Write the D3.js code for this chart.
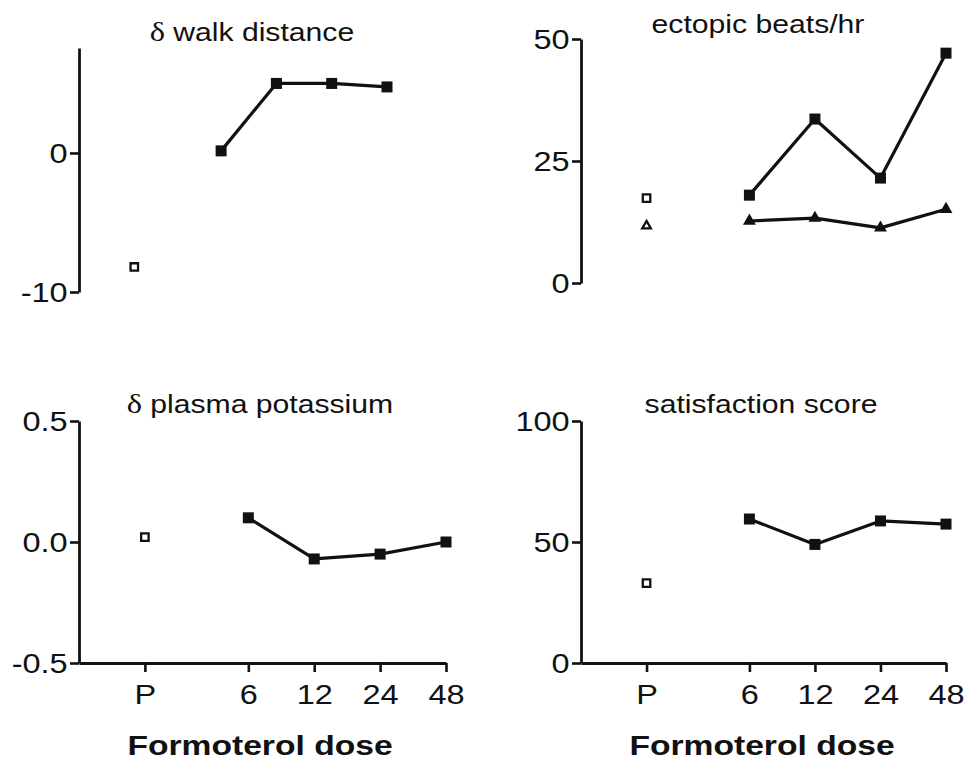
<!DOCTYPE html>
<html>
<head>
<meta charset="utf-8">
<script src="https://cdn.jsdelivr.net/npm/d3@7"></script>
<style>
  html, body { margin: 0; padding: 0; background: #fff; }
  svg { display: block; }
  text { font-family: "Liberation Sans", Arial, sans-serif; fill: #111; }
</style>
</head>
<body>
<svg id="chart" width="968" height="764"></svg>
<script>
// Dose groups: placebo (P) followed by formoterol doses (µg)
const doses = ["P", "6", "12", "24", "48"];
const formoterolDoses = ["6", "12", "24", "48"];

// δ walk distance
const walkPlacebo = -8.2;
const walkFormoterol = [0.15, 5.0, 5.0, 4.75];

// ectopic beats/hr (two series)
const ectopicAPlacebo = 17.4;
const ectopicAFormoterol = [18.0, 33.6, 21.5, 47.1];
const ectopicBPlacebo = 11.7;
const ectopicBFormoterol = [12.7, 13.3, 11.3, 15.1];

// δ plasma potassium
const potassiumPlacebo = 0.02;
const potassiumFormoterol = [0.1, -0.07, -0.05, 0.0];

// satisfaction score
const satisfactionPlacebo = 33;
const satisfactionFormoterol = [59.5, 49, 58.7, 57.4];

// axis tick values
const walkTicks = [-10, 0];
const ectopicTicks = [0, 25, 50];
const potassiumTicks = [-0.5, 0.0, 0.5];
const satisfactionTicks = [0, 50, 100];

const svg = d3.select("#chart");
const INK = "#111";
const TICK_FONT = 28.5, TICK_SX = 1.14;
const TITLE_FONT = 26, TITLE_SX = 1.16;
const LABEL_FONT = 28.5, LABEL_SX = 1.18;

// plain hyphen for negatives, as in the printed figure
const hyphenate = f => v => f(v).replace("\u2212", "-");

// slot of each dose group along the x axis (gap after placebo)
const doseSlot = d3.scaleOrdinal().domain(doses).range([1, 2.57, 3.57, 4.57, 5.57]);

function styleTicks(sel) {
  sel.select(".domain").attr("stroke", INK).attr("stroke-width", 2.8);
  sel.selectAll(".tick line").attr("stroke", INK).attr("stroke-width", 2.6);
  sel.selectAll(".tick text")
    .attr("transform", `scale(${TICK_SX},1)`)
    .style("font-size", TICK_FONT + "px").attr("fill", INK)
    .style("font-family", "'Liberation Sans', Arial, sans-serif");
}

function panel(cfg) {
  const g = svg.append("g");
  const x = d3.scaleLinear().domain([0, 5.57]).range(cfg.xRange);
  const y = d3.scaleLinear().domain(cfg.yDomain).range(cfg.yRange);
  const px = d => x(doseSlot(d));

  // title
  const t = g.append("text")
    .attr("transform", `translate(${cfg.titleX},${cfg.titleY}) scale(${TITLE_SX},1)`)
    .attr("text-anchor", "middle")
    .style("font-size", TITLE_FONT + "px");
  if (cfg.delta) {
    t.append("tspan").style("font-family", "'Liberation Serif', serif").style("font-size", "28px").text("δ ");
  }
  t.append("tspan").text(cfg.title);

  // y axis
  g.append("g")
    .attr("transform", `translate(${cfg.xRange[0]},0)`)
    .call(d3.axisLeft(y).tickValues(cfg.ticks).tickFormat(hyphenate(cfg.fmt || d3.format("d")))
      .tickSizeInner(9).tickSizeOuter(0).tickPadding(1))
    .call(styleTicks);

  // x axis (bottom row only)
  if (cfg.xAxis) {
    g.append("g")
      .attr("transform", `translate(0,${cfg.yRange[0]})`)
      .call(d3.axisBottom(x).tickValues(doses.map(d => doseSlot(d)))
        .tickFormat((v, i) => doses[i]).tickSizeInner(9).tickSizeOuter(0).tickPadding(12))
      .call(styleTicks);

    g.append("text")
      .attr("transform", `translate(${cfg.labelX},755) scale(${LABEL_SX},1)`)
      .attr("text-anchor", "middle")
      .style("font-size", LABEL_FONT + "px").style("font-weight", "bold")
      .text("Formoterol dose");
  }

  // series
  cfg.series.forEach(s => {
    const pts = formoterolDoses.map((d, i) => ({ d, v: s.values[i] }));
    g.append("path")
      .datum(pts)
      .attr("fill", "none").attr("stroke", INK).attr("stroke-width", 3.2)
      .attr("stroke-linejoin", "round")
      .attr("d", d3.line().x(p => px(p.d)).y(p => y(p.v)));

    const filled = d3.symbol().type(s.shape).size(s.shape === d3.symbolSquare ? 121 : 72);
    g.selectAll(null).data(pts).join("path")
      .attr("transform", p => `translate(${px(p.d)},${y(p.v)})`)
      .attr("d", filled).attr("fill", INK);

    const hollow = d3.symbol().type(s.shape).size(s.shape === d3.symbolSquare ? 56 : 32);
    g.append("path")
      .attr("transform", `translate(${px("P")},${y(s.placebo)})`)
      .attr("d", hollow).attr("fill", "#fff").attr("stroke", INK).attr("stroke-width", 2.3);
  });
}

panel({
  title: "walk distance", delta: true, titleX: 252, titleY: 41,
  xRange: [79, 387], yDomain: [-10, 7.55], yRange: [292, 48], ticks: walkTicks,
  series: [{ values: walkFormoterol, placebo: walkPlacebo, shape: d3.symbolSquare }]
});
panel({
  title: "ectopic beats/hr", titleX: 758, titleY: 33,
  xRange: [581, 946], yDomain: [0, 50], yRange: [283, 39], ticks: ectopicTicks,
  series: [
    { values: ectopicAFormoterol, placebo: ectopicAPlacebo, shape: d3.symbolSquare },
    { values: ectopicBFormoterol, placebo: ectopicBPlacebo, shape: d3.symbolTriangle }
  ]
});
panel({
  title: "plasma potassium", delta: true, titleX: 260, titleY: 413,
  xRange: [79, 446], yDomain: [-0.5, 0.5], yRange: [663, 421], ticks: potassiumTicks,
  fmt: d3.format(".1f"), xAxis: true, labelX: 260,
  series: [{ values: potassiumFormoterol, placebo: potassiumPlacebo, shape: d3.symbolSquare }]
});
panel({
  title: "satisfaction score", titleX: 761, titleY: 413,
  xRange: [581, 946], yDomain: [0, 100], yRange: [663, 421], ticks: satisfactionTicks,
  xAxis: true, labelX: 762,
  series: [{ values: satisfactionFormoterol, placebo: satisfactionPlacebo, shape: d3.symbolSquare }]
});
</script>
</body>
</html>
